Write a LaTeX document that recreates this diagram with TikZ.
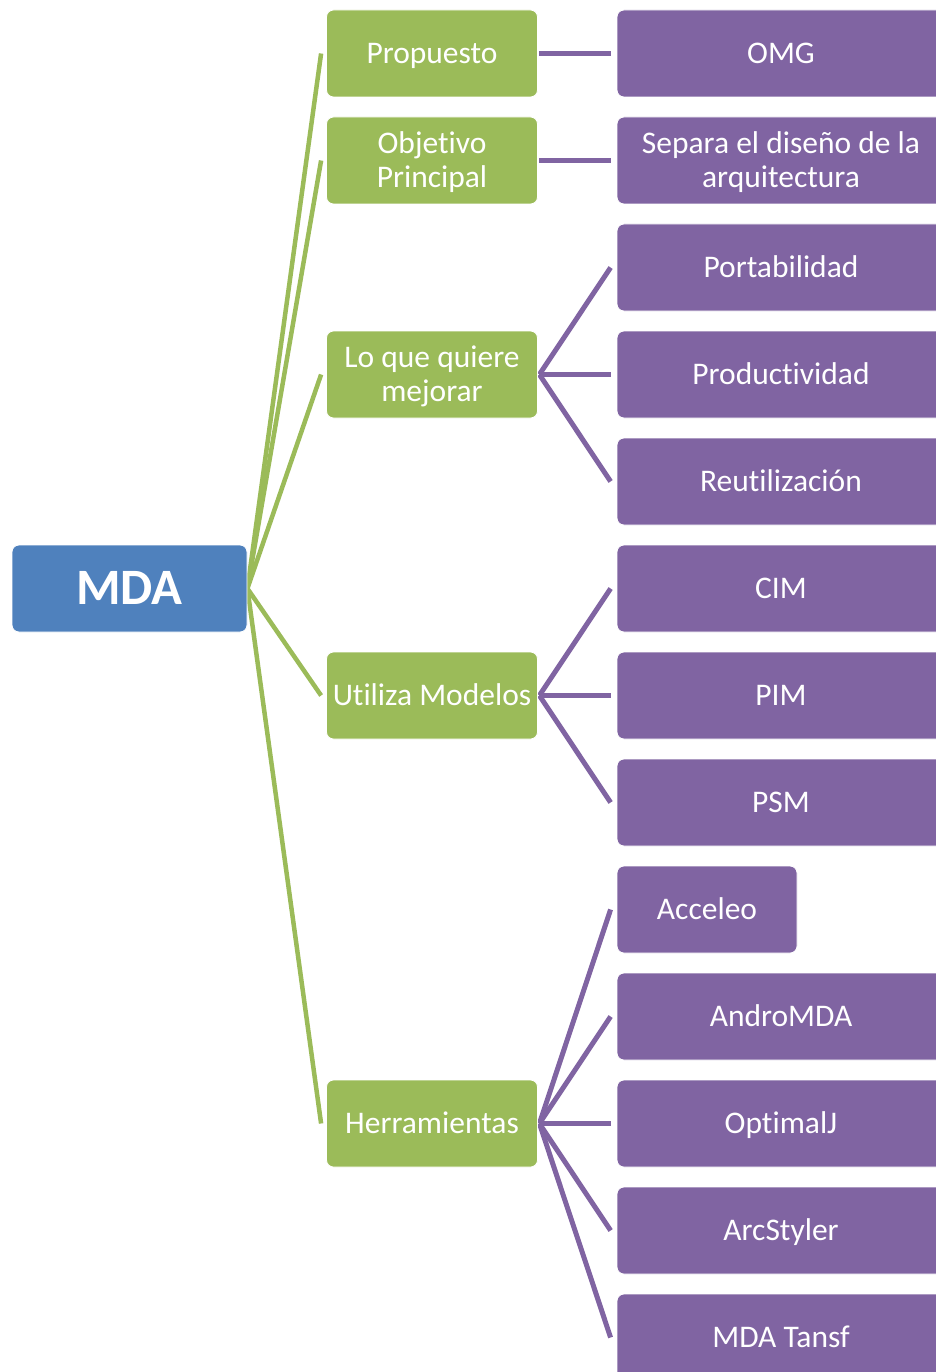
\documentclass[tikz,border=0pt]{standalone}
\usepackage{fontspec}
\setmainfont{Carlito}[Ligatures=NoCommon]
\usetikzlibrary{backgrounds}
\definecolor{mdablue}{HTML}{4F81BD}
\definecolor{mdagreen}{HTML}{9BBB59}
\definecolor{mdapurple}{HTML}{8064A2}
\tikzset{
  basebox/.style={rounded corners=7pt, inner sep=0pt, text=white, align=center,
    font=\fontsize{31.5}{34}\selectfont, text height=20pt, text depth=0pt,
    minimum height=87pt, draw=white, line width=0.8pt},
  mdabox/.style={basebox, fill=mdablue, minimum width=235pt,
    font=\bfseries\fontsize{51}{56}\selectfont, text height=32.8pt},
  gbox/.style={basebox, fill=mdagreen, minimum width=211pt},
  pbox/.style={basebox, fill=mdapurple, minimum width=328pt},
  twoline/.style={text height=54pt, text depth=0pt},
  gline/.style={draw=mdagreen, line width=4.5pt},
  pline/.style={draw=mdapurple, line width=5pt},
}
\begin{document}
\begin{tikzpicture}[x=1pt,y=-1pt]
\useasboundingbox (0,0) rectangle (936,1372);
\clip (0,0) rectangle (936,1372);

\node[mdabox] (mda) at (129.5,588.5) {MDA};

\node[gbox] (g1) at (432,53.5) {Propuesto};
\node[gbox,twoline] (g2) at (432,160.5) {Objetivo\\Principal};
\node[gbox,twoline] (g3) at (432,374.5) {Lo que quiere\\mejorar};
\node[gbox] (g4) at (432,695.5) {Utiliza Modelos};
\node[gbox] (g5) at (432,1123.5) {Herramientas};

\node[pbox] (p1) at (781,53.5) {OMG};
\node[pbox,twoline] (p2) at (781,160.5) {Separa el diseño de la\\arquitectura};
\node[pbox] (p3) at (781,267.5) {Portabilidad};
\node[pbox] (p4) at (781,374.5) {Productividad};
\node[pbox] (p5) at (781,481.5) {Reutilización};
\node[pbox] (p6) at (781,588.5) {CIM};
\node[pbox] (p7) at (781,695.5) {PIM};
\node[pbox] (p8) at (781,802.5) {PSM};
\node[pbox,minimum width=180pt] (p9) at (707,909.5) {Acceleo};
\node[pbox] (p10) at (781,1016.5) {AndroMDA};
\node[pbox] (p11) at (781,1123.5) {OptimalJ};
\node[pbox] (p12) at (781,1230.5) {ArcStyler};
\node[pbox] (p13) at (781,1337.5) {MDA Tansf};

\begin{pgfonlayer}{background}
\foreach \g in {g1,g2,g3,g4,g5}
  \draw[gline] (mda.east) -- ([xshift=-5pt]\g.west);
\foreach \g/\p in {g1/p1, g2/p2, g3/p3, g3/p4, g3/p5, g4/p6, g4/p7, g4/p8,
                   g5/p9, g5/p10, g5/p11, g5/p12, g5/p13}
  \draw[pline] ([xshift=1.5pt]\g.east) -- ([xshift=-6pt]\p.west);
\end{pgfonlayer}
\end{tikzpicture}
\end{document}
